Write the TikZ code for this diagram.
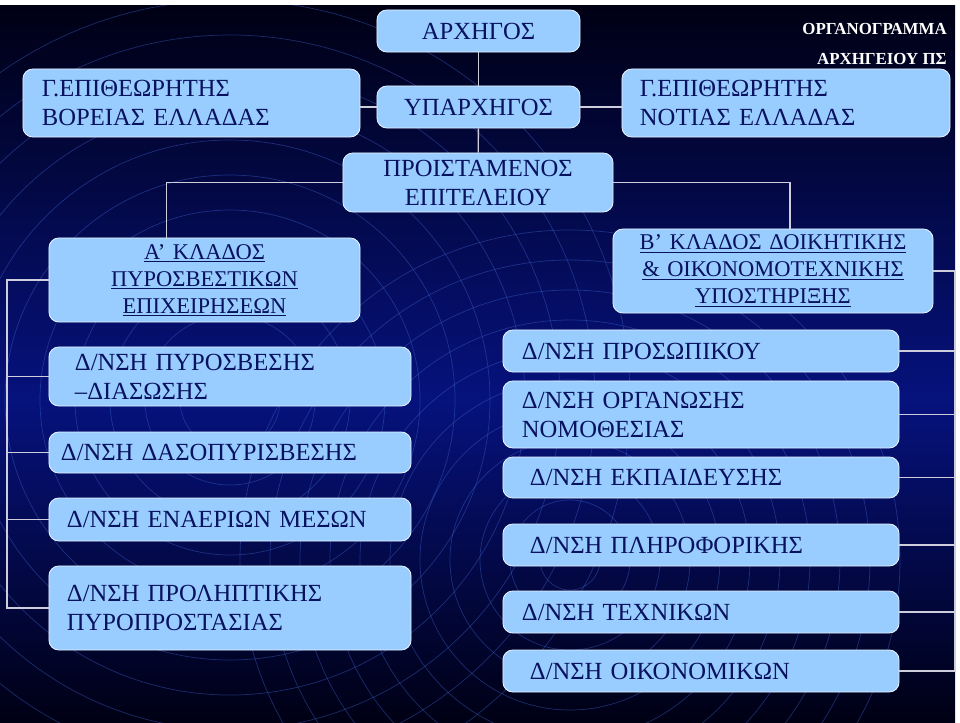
\documentclass[tikz,border=0pt]{standalone}
\usepackage{fontspec}
\setmainfont{Liberation Serif}
\definecolor{boxfill}{RGB}{153,204,255}
\definecolor{boxtext}{RGB}{8,18,95}
\definecolor{bgdark}{RGB}{0,0,20}
\definecolor{bgblue}{RGB}{6,18,125}
\definecolor{ringcol}{RGB}{60,95,200}
\definecolor{wirecol}{RGB}{205,205,220}
\begin{document}
\begin{tikzpicture}[x=0.025cm,y=-0.025cm,
  box/.style={rectangle,rounded corners=7pt,draw=white!75!boxfill,line width=0.6pt,fill=boxfill,text=boxtext,inner ysep=0pt,font=\fontsize{17.5}{20.6}\selectfont},
  lbox/.style={box,align=left},
  cbox/.style={box,align=center,inner xsep=0pt},
  kbox/.style={cbox,font=\fontsize{16}{19.2}\selectfont},
  wire/.style={draw=wirecol,line width=1pt},
  ring/.style={draw=ringcol,line width=0.5pt,opacity=0.45},
  title/.style={text=white,font=\bfseries\fontsize{12}{14}\selectfont,inner sep=0pt,anchor=base east}]
\useasboundingbox (0,0) rectangle (960,723);
\fill[white] (0,0) rectangle (960,723);
\shade[top color=bgdark,bottom color=bgblue] (0,5) rectangle (955,400);
\shade[top color=bgblue,bottom color=bgdark] (0,399.5) rectangle (955,722);
\begin{scope}
\clip (0,5) rectangle (955,722);
\foreach \r in {30,60,...,330} \draw[ring] (570,560) circle[radius=\r];
\foreach \r in {50,85,...,400} \draw[ring] (230,400) circle[radius=\r];
\end{scope}

\node[title](t1) at (947,34) {ΟΡΓΑΝΟΓΡΑΜΜΑ};
\node[title](t2) at (947,64) {ΑΡΧΗΓΕΙΟΥ ΠΣ};

\node[cbox,text width=5.075cm,minimum height=1.05cm](arch) at (478.5,31) {ΑΡΧΗΓΟΣ};
\node[cbox,text width=5.075cm,minimum height=1.05cm](yparch) at (478.5,107) {ΥΠΑΡΧΗΓΟΣ};
\node[lbox,text width=7.475cm,inner xsep=0.475cm,minimum height=1.7cm](north) at (191.5,103) {Γ.ΕΠΙΘΕΩΡΗΤΗΣ\\ΒΟΡΕΙΑΣ ΕΛΛΑΔΑΣ};
\node[lbox,text width=7.3cm,inner xsep=0.45cm,minimum height=1.7cm](south) at (786,103) {Γ.ΕΠΙΘΕΩΡΗΤΗΣ\\ΝΟΤΙΑΣ ΕΛΛΑΔΑΣ};
\node[cbox,text width=6.75cm,minimum height=1.475cm](proist) at (478,182.5) {ΠΡΟΙΣΤΑΜΕΝΟΣ\\ΕΠΙΤΕΛΕΙΟΥ};
\node[kbox,text width=7.775cm,minimum height=2.1cm](klA) at (204.5,280) {\underline{Α’ ΚΛΑΔΟΣ}\\\underline{ΠΥΡΟΣΒΕΣΤΙΚΩΝ}\\\underline{ΕΠΙΧΕΙΡΗΣΕΩΝ}};
\node[kbox,text width=8cm,minimum height=2.1cm](klB) at (773,271) {\underline{Β’ ΚΛΑΔΟΣ ΔΟΙΚΗΤΙΚΗΣ}\\\underline{\& ΟΙΚΟΝΟΜΟΤΕΧΝΙΚΗΣ}\\\underline{ΥΠΟΣΤΗΡΙΞΗΣ}};

\node[lbox,text width=7.75cm,inner xsep=0.65cm,minimum height=1.475cm](pyr) at (230,376.5) {Δ/ΝΣΗ ΠΥΡΟΣΒΕΣΗΣ\\–ΔΙΑΣΩΣΗΣ};
\node[lbox,text width=8.45cm,inner xsep=0.3cm,minimum height=1.025cm](daso) at (230,452.5) {Δ/ΝΣΗ ΔΑΣΟΠΥΡΙΣΒΕΣΗΣ};
\node[lbox,text width=8.15cm,inner xsep=0.45cm,minimum height=1.075cm](enaer) at (230,519.5) {Δ/ΝΣΗ ΕΝΑΕΡΙΩΝ ΜΕΣΩΝ};
\node[lbox,text width=8.15cm,inner xsep=0.45cm,minimum height=2.1cm](prol) at (230,608) {Δ/ΝΣΗ ΠΡΟΛΗΠΤΙΚΗΣ\\ΠΥΡΟΠΡΟΣΤΑΣΙΑΣ};

\node[lbox,text width=8.95cm,inner xsep=0.475cm,minimum height=1.05cm](pros) at (701,351) {Δ/ΝΣΗ ΠΡΟΣΩΠΙΚΟΥ};
\node[lbox,text width=8.95cm,inner xsep=0.475cm,minimum height=1.675cm](org) at (701,414.5) {Δ/ΝΣΗ ΟΡΓΑΝΩΣΗΣ\\ΝΟΜΟΘΕΣΙΑΣ};
\node[lbox,text width=8.55cm,inner xsep=0.675cm,minimum height=1.025cm](ekp) at (701,477.5) {Δ/ΝΣΗ ΕΚΠΑΙΔΕΥΣΗΣ};
\node[lbox,text width=8.55cm,inner xsep=0.675cm,minimum height=1.05cm](plir) at (701,545) {Δ/ΝΣΗ ΠΛΗΡΟΦΟΡΙΚΗΣ};
\node[lbox,text width=8.95cm,inner xsep=0.475cm,minimum height=1.05cm](tech) at (701,612) {Δ/ΝΣΗ ΤΕΧΝΙΚΩΝ};
\node[lbox,text width=8.55cm,inner xsep=0.675cm,minimum height=1.05cm](oik) at (701,671) {Δ/ΝΣΗ ΟΙΚΟΝΟΜΙΚΩΝ};

\coordinate (lbus) at (7,0);
\coordinate (rbus) at (955,0);

\draw[wire] (arch) -- (yparch);
\draw[wire] (yparch) -- (proist);
\draw[wire] (yparch.west) -- (yparch.west -| north.east);
\draw[wire] (yparch.east) -- (yparch.east -| south.west);
\draw[wire] (proist.west) -| ([xshift=-0.95cm]klA.north);
\draw[wire] (proist.east) -| ([xshift=0.425cm]klB.north);

\draw[wire] (klA.west) -| (lbus |- prol.west) -- (prol.west);
\foreach \n in {pyr,daso,enaer}
  \draw[wire] (\n.west) -- (lbus |- \n.west);

\draw[wire] (klB.east) -| (rbus |- oik.east) -- (oik.east);
\foreach \n in {pros,org,ekp,plir,tech}
  \draw[wire] (\n.east) -- (rbus |- \n.east);
\end{tikzpicture}
\end{document}
